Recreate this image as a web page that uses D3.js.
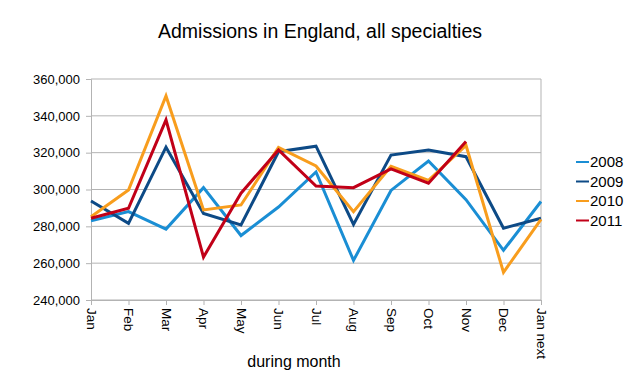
<!DOCTYPE html>
<html>
<head>
<meta charset="utf-8">
<script src="https://cdn.jsdelivr.net/npm/d3@7"></script>
<style>
  body { margin: 0; background: #fff; }
  text { font-family: "Liberation Sans", Arial, sans-serif; fill: #000; }
</style>
</head>
<body>
<div id="chart"></div>
<script>
const months = ["Jan", "Feb", "Mar", "Apr", "May", "Jun", "Jul", "Aug", "Sep", "Oct", "Nov", "Dec", "Jan next"];
const yTicks = [240000, 260000, 280000, 300000, 320000, 340000, 360000];

const v2008 = [283000, 288000, 278500, 301000, 275000, 290500, 309500, 261500, 299500, 315500, 294500, 267000, 293500];
const v2009 = [293800, 281600, 323000, 287000, 280700, 320500, 323500, 281000, 318700, 321500, 317800, 279000, 284400];
const v2010 = [285200, 299700, 350800, 288900, 291600, 322900, 312800, 288000, 312600, 305000, 324000, 255000, 283800];
const v2011 = [284400, 289800, 337800, 263300, 298000, 321500, 301900, 301000, 311200, 303400, 326000];

const seriesNames = ["2008", "2009", "2010", "2011"];
const seriesColors = ["#1a8ed4", "#0d4a86", "#f89d1d", "#c10018"];

const width = 639, height = 384;
const margin = {top: 79, right: 98, bottom: 84, left: 91};

const svg = d3.select("#chart").append("svg")
    .attr("width", width)
    .attr("height", height);

const x = d3.scalePoint()
    .domain(months)
    .range([margin.left, width - margin.right]);

const y = d3.scaleLinear()
    .domain([240000, 360000])
    .range([height - margin.bottom, margin.top]);

// title
svg.append("text")
    .attr("x", 320)
    .attr("y", 38)
    .attr("text-anchor", "middle")
    .style("font-size", "19.5px")
    .text("Admissions in England, all specialties");

// gridlines
svg.append("g")
    .selectAll("line")
    .data(yTicks)
    .enter().append("line")
    .attr("x1", margin.left)
    .attr("x2", width - margin.right)
    .attr("y1", d => y(d))
    .attr("y2", d => y(d))
    .attr("stroke", "#b3b3b3")
    .attr("stroke-width", 1);

// right border
svg.append("line")
    .attr("x1", width - margin.right)
    .attr("x2", width - margin.right)
    .attr("y1", y(360000))
    .attr("y2", y(240000))
    .attr("stroke", "#b3b3b3");

// y axis
const yAxis = svg.append("g")
    .attr("transform", `translate(${margin.left},0)`)
    .call(d3.axisLeft(y).tickValues(yTicks).tickSize(5).tickPadding(6)
        .tickFormat(d3.format(",")));
yAxis.selectAll("path, line").attr("stroke", "#b3b3b3");
yAxis.selectAll("text").style("font-size", "13px").style("font-family", "Liberation Sans, Arial, sans-serif");

// x axis
const xAxis = svg.append("g")
    .attr("transform", `translate(0,${height - margin.bottom})`)
    .call(d3.axisBottom(x).tickSize(5).tickSizeOuter(0));
xAxis.selectAll("path, line").attr("stroke", "#b3b3b3");
xAxis.selectAll("text")
    .style("font-size", "13.5px")
    .style("font-family", "Liberation Sans, Arial, sans-serif")
    .attr("text-anchor", "start")
    .attr("transform", "rotate(90)")
    .attr("x", 8)
    .attr("y", 0)
    .attr("dy", "0.35em");

// x axis label
svg.append("text")
    .attr("x", 294)
    .attr("y", 367)
    .attr("text-anchor", "middle")
    .style("font-size", "16px")
    .text("during month");

// lines
const allSeries = [v2008, v2009, v2010, v2011];
const line = d3.line()
    .x((d, i) => x(months[i]))
    .y(d => y(d));

svg.append("g")
    .selectAll("path")
    .data(allSeries)
    .enter().append("path")
    .attr("d", d => line(d))
    .attr("fill", "none")
    .attr("stroke", (d, i) => seriesColors[i])
    .attr("stroke-width", 3)
    .attr("stroke-linejoin", "miter");

// legend
const legend = svg.append("g")
    .selectAll("g")
    .data(seriesNames)
    .enter().append("g")
    .attr("transform", (d, i) => `translate(576,${162 + i * 19.5})`);

legend.append("line")
    .attr("x1", 0)
    .attr("x2", 13)
    .attr("stroke", (d, i) => seriesColors[i])
    .attr("stroke-width", 2);

legend.append("text")
    .attr("x", 14)
    .attr("dy", "0.35em")
    .style("font-size", "15px")
    .text(d => d);
</script>
</body>
</html>
